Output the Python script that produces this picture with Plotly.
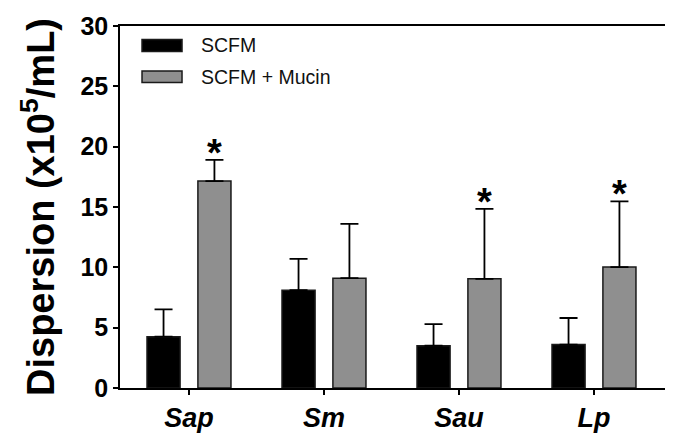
import plotly.graph_objects as go

categories = ["Sap", "Sm", "Sau", "Lp"]
series_names = ["SCFM", "SCFM + Mucin"]
scfm = [4.25, 8.1, 3.5, 3.6]
scfm_err = [2.27, 2.6, 1.8, 2.2]
mucin = [17.15, 9.1, 9.05, 10.02]
mucin_err = [1.75, 4.5, 5.8, 5.45]
significant = [True, False, True, True]
y_ticks = [0, 5, 10, 15, 20, 25, 30]

FONT = "Liberation Sans"
BLACK = "#000000"
GREY = "#8f8f8f"
EDGE = "#1a1a1a"

xs = list(range(len(categories)))
fig = go.Figure()
fig.add_trace(go.Bar(
    x=xs, y=scfm, name=series_names[0], width=0.245, offset=-0.311,
    marker=dict(color=BLACK, line=dict(color=EDGE, width=1.5)),
    error_y=dict(type="data", array=scfm_err, symmetric=False,
                 arrayminus=[0] * len(scfm), color=BLACK, thickness=1.8, width=9),
))
fig.add_trace(go.Bar(
    x=xs, y=mucin, name=series_names[1], width=0.245, offset=0.066,
    marker=dict(color=GREY, line=dict(color=EDGE, width=1.5)),
    error_y=dict(type="data", array=mucin_err, symmetric=False,
                 arrayminus=[0] * len(mucin), color=BLACK, thickness=1.8, width=9),
))

for i, sig in enumerate(significant):
    if sig:
        fig.add_annotation(x=i + 0.1885, y=mucin[i] + mucin_err[i], text="<b>*</b>",
                           showarrow=False, yanchor="bottom", yshift=-16,
                           font=dict(family=FONT, size=38, color=BLACK))

# manual legend
legend_rows = [(0.9296, 0.9627, BLACK), (0.8439, 0.8757, GREY)]
for (y0, y1, col), name in zip(legend_rows, series_names):
    fig.add_shape(type="rect", xref="paper", yref="paper", x0=0.0404, x1=0.1138,
                  y0=y0, y1=y1, fillcolor=col, line=dict(color=EDGE, width=1.5))
    fig.add_annotation(xref="paper", yref="paper", x=0.145, y=(y0 + y1) / 2,
                       text=name, showarrow=False, xanchor="left", yanchor="middle",
                       font=dict(family=FONT, size=19.5, color="#111111"))

# the page body has an 8px margin, so the figure is 8px smaller and margins compensate
fig.update_layout(
    width=665, height=427,
    margin=dict(l=112, r=8, t=18, b=47),
    paper_bgcolor="white", plot_bgcolor="white",
    showlegend=False, barmode="overlay",
)
fig.update_xaxes(
    automargin=False,
    range=[-0.511, 3.526], tickmode="array", tickvals=xs,
    ticktext=[f"<b><i>{c}</i></b>" for c in categories],
    tickfont=dict(family=FONT, size=27, color=BLACK),
    showline=True, linecolor=BLACK, linewidth=1.5, mirror=True,
    ticks="outside", ticklen=5, tickwidth=1.5, tickcolor=BLACK,
    showgrid=False, zeroline=False,
)
fig.update_yaxes(
    automargin=False,
    range=[0, 30], tickvals=y_ticks,
    ticktext=[f"<b>{v}</b>" for v in y_ticks],
    tickfont=dict(family=FONT, size=25, color=BLACK),
    showline=True, linecolor=BLACK, linewidth=1.5, mirror=True,
    ticks="outside", ticklen=5, tickwidth=1.5, tickcolor=BLACK,
    showgrid=False, zeroline=False,
    title=dict(text="<b>Dispersion (x10<sup>5</sup>/mL)</b>",
               font=dict(family=FONT, size=38, color=BLACK), standoff=14),
)

fig.write_html("out.html")
